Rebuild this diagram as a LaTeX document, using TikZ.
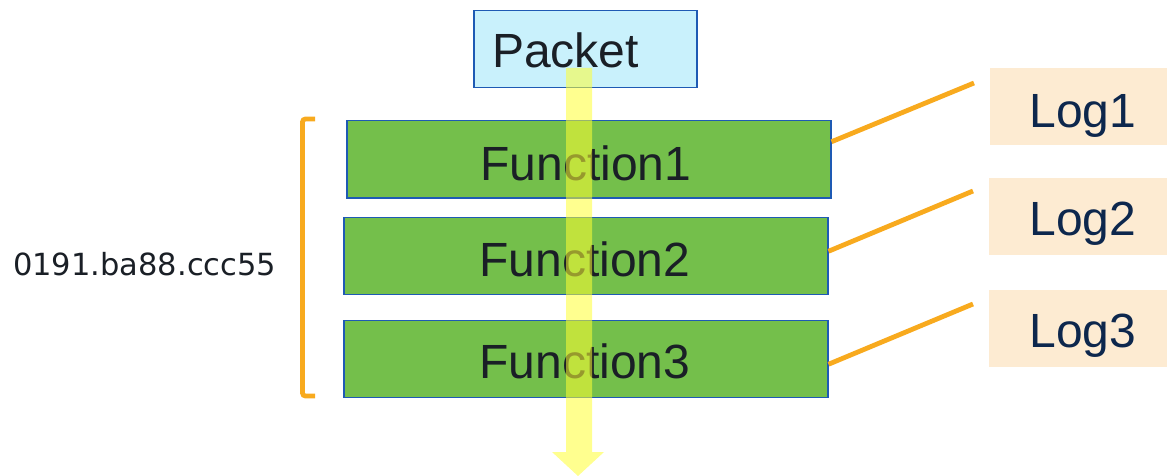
\documentclass[tikz,border=0pt]{standalone}
\usepackage{fontspec}
\setmainfont{Liberation Sans}
\newfontfamily\labelfont{DejaVu Sans}
\definecolor{pktfill}{HTML}{C9F1FC}
\definecolor{boxline}{HTML}{1E5AB4}
\definecolor{fngreen}{HTML}{74BF4B}
\definecolor{logfill}{HTML}{FDEBD2}
\definecolor{linkorange}{HTML}{F8AA1E}
\definecolor{navy}{HTML}{0D274D}
\definecolor{darktext}{HTML}{1A1F26}
\definecolor{flowyellow}{HTML}{FFFF33}
\tikzset{
  box/.style={draw=boxline, line width=1.5pt, anchor=north west, inner sep=0pt},
  pktbox/.style={box, fill=pktfill, minimum width=223pt, minimum height=77pt},
  fnbox/.style={box, fill=fngreen, minimum width=484pt, minimum height=77pt},
  logbox/.style={fill=logfill, anchor=north west, inner sep=0pt, minimum width=178pt, minimum height=77pt},
  bigtext/.style={font=\fontsize{48}{50}\selectfont, anchor=base, inner sep=0pt},
  link/.style={draw=linkorange, line width=4.8pt},
}
\begin{document}
\begin{tikzpicture}[x=1pt, y=-1pt]
\useasboundingbox (0,0) rectangle (1167,476);

% packet header box
\node[pktbox] (pkt) at (473,10) {};
\node[bigtext, anchor=base west, text=darktext] (pkttxt) at (492,68) {Packet};

% processing functions
\node[fnbox] (f1) at (346,120) {};
\node[fnbox] (f2) at (343,216.5) {};
\node[fnbox] (f3) at (343,319.5) {};
\node[bigtext, text=darktext] (f1txt) at (586,180) {Function1};
\node[bigtext, text=darktext] (f2txt) at (585,276) {Function2};
\node[bigtext, text=darktext] (f3txt) at (585,378) {Function3};

% log entries
\node[logbox] (log1) at (990,68) {};
\node[logbox] (log2) at (989,178) {};
\node[logbox] (log3) at (989,290) {};
\node[bigtext, text=navy] (log1txt) at (1083,128) {Log1};
\node[bigtext, text=navy] (log2txt) at (1083,235) {Log2};
\node[bigtext, text=navy] (log3txt) at (1083,347) {Log3};

% links from functions to logs
\coordinate (e1) at (974,83);
\coordinate (e2) at (973,191);
\coordinate (e3) at (973,304);
\draw[link] ([yshift=17.5pt]f1.east) -- (e1);
\draw[link] ([yshift=4.5pt]f2.east) -- (e2);
\draw[link] ([yshift=-5.5pt]f3.east) -- (e3);

% bracket grouping the functions
\draw[draw=linkorange, line width=4.8pt, rounded corners=3pt]
  (315,119) -- (302.5,119) -- (302.5,396) -- (315,396);
\node[font=\labelfont\fontsize{30.5}{32}\selectfont, text=darktext, anchor=base west, inner sep=0pt]
  (mac) at (13,275) {0191.ba88.ccc55};

% packet flow arrow
\fill[flowyellow, opacity=0.55]
  (566,68) -- (592,68) -- (592,452) -- (604,452) -- (578,476)
  -- (552,452) -- (566,452) -- cycle;
\end{tikzpicture}
\end{document}
